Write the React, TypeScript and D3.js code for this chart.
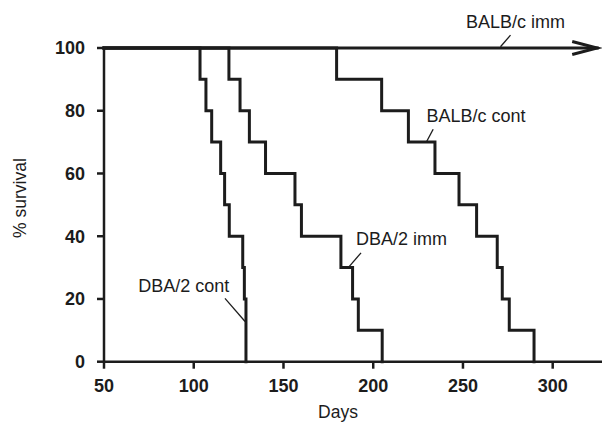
import React from 'react';
import * as d3 from 'd3';

// survival data: day of each drop and the % survival after it
const dba2ContDays = [103.5, 106.8, 110, 115, 117.2, 119.8, 127.3, 128.2, 129.1];
const dba2ContSurv = [90, 80, 70, 60, 50, 40, 30, 20, 0];

const dba2ImmDays = [119.6, 125.8, 131, 140, 156.4, 160, 182, 188.5, 191.7, 205];
const dba2ImmSurv = [90, 80, 70, 60, 50, 40, 30, 20, 10, 0];

const balbContDays = [179.6, 204.7, 219.6, 234.4, 247.8, 257.6, 269.1, 271.9, 275.8, 289.6];
const balbContSurv = [90, 80, 70, 60, 50, 40, 30, 20, 10, 0];

// immunized BALB/c: no deaths, line runs on past the end (arrow)
const balbImmEnd = 324.8;

const xTicks = [50, 100, 150, 200, 250, 300];
const yTicks = [0, 20, 40, 60, 80, 100];

// labels: text, text anchor (day, %), leader line from -> to (day, %)
const labels = [
  {text: 'BALB/c imm', x: 251.7, y: 106.5, l: [276.5, 104.1, 270.9, 100.4]},
  {text: 'BALB/c cont', x: 229.7, y: 76.3, l: [233.4, 74.1, 229.7, 70.1]},
  {text: 'DBA/2 imm', x: 190.4, y: 37.2, l: [193.2, 34.7, 186.1, 30.0]},
  {text: 'DBA/2 cont', x: 69.1, y: 22.3, l: [117.4, 20.2, 128.6, 12.8]},
];

const config = {
  w: 602,
  h: 425,
  ink: '#1c1c1c',
  font: '"Liberation Sans", Arial, Helvetica, sans-serif',
};

const toPoints = (days: number[], surv: number[]): [number, number][] =>
  [[50, 100] as [number, number], ...days.map((d, i) => [d, surv[i]] as [number, number])];

export default function App() {
  const xScale = d3.scaleLinear().domain([50, 300]).range([104, 552.7]);
  const yScale = d3.scaleLinear().domain([0, 100]).range([361.7, 48]);

  const line = d3.line<[number, number]>()
    .x(d => xScale(d[0]))
    .y(d => yScale(d[1]))
    .curve(d3.curveStepAfter);

  const series = [
    toPoints(dba2ContDays, dba2ContSurv),
    toPoints(dba2ImmDays, dba2ImmSurv),
    toPoints(balbContDays, balbContSurv),
    [[50, 100], [balbImmEnd, 100]] as [number, number][],
  ];

  const tipX = xScale(balbImmEnd);
  const tipY = yScale(100);

  return (
    <svg width={config.w} height={config.h}
      style={{position: 'absolute', left: 0, top: 0, background: '#fff'}}
      fontFamily={config.font}>
      {/* axes */}
      <line x1={xScale(50)} x2={config.w} y1={yScale(0)} y2={yScale(0)} stroke={config.ink} strokeWidth={2.5} />
      <line x1={xScale(50)} x2={xScale(50)} y1={yScale(0)} y2={yScale(100)} stroke={config.ink} strokeWidth={2.5} />
      {xTicks.map(t => (
        <g key={'x' + t}>
          <line x1={xScale(t)} x2={xScale(t)} y1={yScale(0)} y2={yScale(0) + 7} stroke={config.ink} strokeWidth={2.5} />
          <text x={xScale(t)} y={392} textAnchor="middle" fontSize={18} fontWeight="bold" fill={config.ink}>{t}</text>
        </g>
      ))}
      {yTicks.map(t => (
        <g key={'y' + t}>
          <line x1={xScale(50) - 7} x2={xScale(50)} y1={yScale(t)} y2={yScale(t)} stroke={config.ink} strokeWidth={2.5} />
          <text x={85} y={yScale(t)} dy="0.36em" textAnchor="end" fontSize={18} fontWeight="bold" fill={config.ink}>{t}</text>
        </g>
      ))}
      <text x={338} y={418} textAnchor="middle" fontSize={17.5} fill={config.ink}>Days</text>
      <text transform="translate(25.5,198) rotate(-90)" textAnchor="middle" fontSize={17.5} fill={config.ink}>% survival</text>

      {/* curves */}
      {series.map((s, i) => (
        <path key={i} d={line(s) || ''} fill="none" stroke={config.ink} strokeWidth={3} strokeLinejoin="miter" strokeLinecap="square" />
      ))}
      <path d={`M${tipX - 25},${tipY - 6.5}L${tipX},${tipY}L${tipX - 25},${tipY + 6.5}`}
        fill="none" stroke={config.ink} strokeWidth={3} />

      {/* labels */}
      {labels.map(l => (
        <g key={l.text}>
          <text x={xScale(l.x)} y={yScale(l.y)} fontSize={18} fill={config.ink}>{l.text}</text>
          <line x1={xScale(l.l[0])} y1={yScale(l.l[1])} x2={xScale(l.l[2])} y2={yScale(l.l[3])} stroke={config.ink} strokeWidth={1.3} />
        </g>
      ))}
    </svg>
  );
}
